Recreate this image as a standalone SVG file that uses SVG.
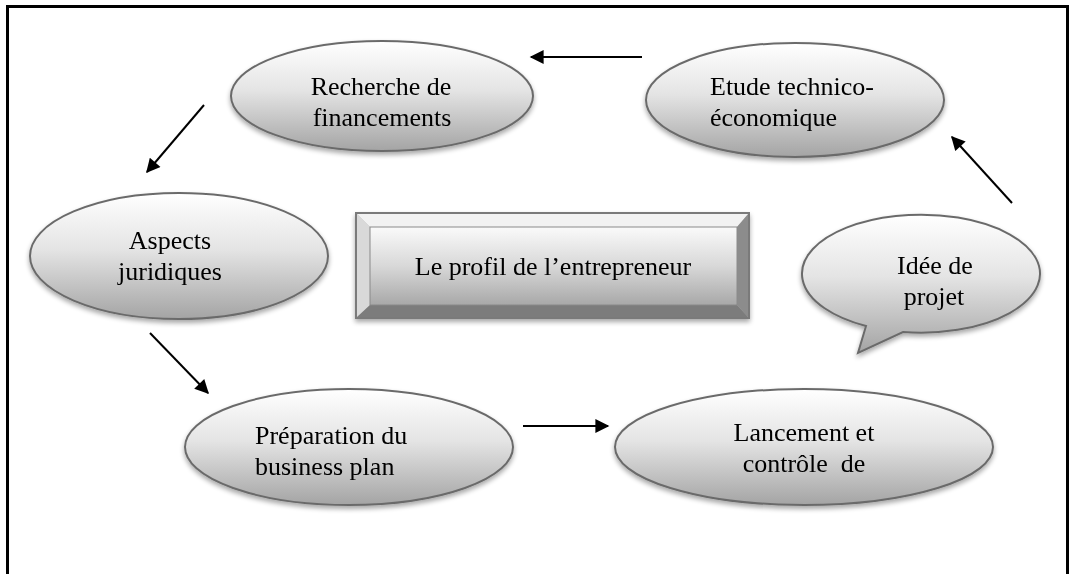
<svg xmlns="http://www.w3.org/2000/svg" width="1070" height="574" viewBox="0 0 1070 574">
  <defs>
    <linearGradient id="shade" x1="0" y1="0" x2="0" y2="1">
      <stop offset="0" stop-color="#ffffff"/>
      <stop offset="0.45" stop-color="#e4e4e4"/>
      <stop offset="1" stop-color="#a4a4a4"/>
    </linearGradient>
    <linearGradient id="face" x1="0" y1="0" x2="0" y2="1">
      <stop offset="0" stop-color="#fafafa"/>
      <stop offset="0.5" stop-color="#d8d8d8"/>
      <stop offset="1" stop-color="#a8a8a8"/>
    </linearGradient>
    <filter id="drop" x="-10%" y="-10%" width="120%" height="130%">
      <feGaussianBlur in="SourceAlpha" stdDeviation="2.5"/>
      <feOffset dx="0" dy="3" result="b"/>
      <feComponentTransfer><feFuncA type="linear" slope="0.35"/></feComponentTransfer>
      <feMerge><feMergeNode/><feMergeNode in="SourceGraphic"/></feMerge>
    </filter>
    <marker id="head" viewBox="0 0 10 10" refX="9" refY="5" markerWidth="8" markerHeight="7" markerUnits="strokeWidth" orient="auto">
      <path d="M0,0 L10,5 L0,10 Z" fill="#000"/>
    </marker>
  </defs>
  <style>
    .shape { fill: url(#shade); stroke: #6b6b6b; stroke-width: 2; }
    .lbl { font-family: "Liberation Serif", "Times New Roman", serif; font-size: 26px; fill: #000; }
    .mid { text-anchor: middle; }
    .arrow { stroke: #000; stroke-width: 2; fill: none; marker-end: url(#head); }
    .frame { stroke: #000; stroke-width: 3; fill: none; }
  </style>

  <rect width="1070" height="574" fill="#ffffff"/>

  <!-- page frame -->
  <path class="frame" d="M7.5,574 V6.5 H1067.5 V574"/>

  <g id="recherche" filter="url(#drop)">
    <ellipse class="shape" cx="382" cy="96" rx="151" ry="55"/>
    <text class="lbl mid" x="381" y="95">Recherche de</text>
    <text class="lbl mid" x="382" y="126">financements</text>
  </g>

  <g id="etude" filter="url(#drop)">
    <ellipse class="shape" cx="795" cy="100" rx="149" ry="57"/>
    <text class="lbl" x="710" y="95">Etude technico-</text>
    <text class="lbl" x="710" y="126">économique</text>
  </g>

  <g id="aspects" filter="url(#drop)">
    <ellipse class="shape" cx="179" cy="256" rx="149" ry="63"/>
    <text class="lbl mid" x="170" y="249">Aspects</text>
    <text class="lbl mid" x="170" y="280">juridiques</text>
  </g>

  <g id="profil" filter="url(#drop)">
    <rect x="356" y="213" width="393" height="105" fill="#bdbdbd" stroke="#7a7a7a" stroke-width="2"/>
    <polygon points="356,213 749,213 737,227 370,227" fill="#f2f2f2"/>
    <polygon points="356,213 370,227 370,305 356,318" fill="#d9d9d9"/>
    <polygon points="749,213 749,318 737,305 737,227" fill="#8c8c8c"/>
    <polygon points="356,318 370,305 737,305 749,318" fill="#7b7b7b"/>
    <rect x="370" y="227" width="367" height="78" fill="url(#face)" stroke="#8a8a8a" stroke-width="1"/>
    <rect x="356" y="213" width="393" height="105" fill="none" stroke="#7a7a7a" stroke-width="2"/>
    <text class="lbl mid" x="553" y="275">Le profil de l’entrepreneur</text>
  </g>

  <g id="idee" filter="url(#drop)">
    <path class="shape" d="M866,326 A119,59 0 1 1 903,332 L858,353 Z"/>
    <text class="lbl mid" x="935" y="274">Idée de</text>
    <text class="lbl mid" x="934" y="305">projet</text>
  </g>

  <g id="preparation" filter="url(#drop)">
    <ellipse class="shape" cx="349" cy="447" rx="164" ry="58"/>
    <text class="lbl" x="255" y="444">Préparation du</text>
    <text class="lbl" x="255" y="475">business plan</text>
  </g>

  <g id="lancement" filter="url(#drop)">
    <ellipse class="shape" cx="804" cy="447" rx="189" ry="58"/>
    <text class="lbl mid" x="804" y="441">Lancement et</text>
    <text class="lbl mid" x="804" y="472" xml:space="preserve">contrôle  de</text>
  </g>

  <g id="connectors">
    <line class="arrow" x1="642" y1="57" x2="531" y2="57"/>
    <line class="arrow" x1="204" y1="105" x2="147" y2="172"/>
    <line class="arrow" x1="150" y1="333" x2="208" y2="393"/>
    <line class="arrow" x1="523" y1="426" x2="608" y2="426"/>
    <line class="arrow" x1="1012" y1="203" x2="952" y2="137"/>
  </g>
</svg>
